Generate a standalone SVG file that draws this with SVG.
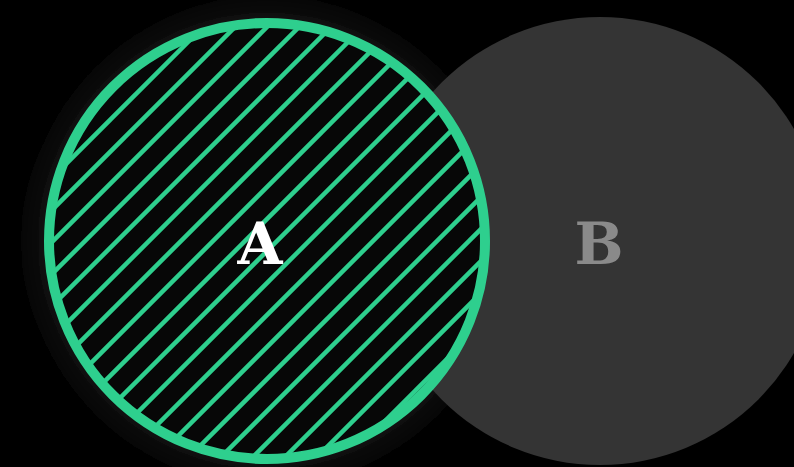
<svg xmlns="http://www.w3.org/2000/svg" width="794" height="467" viewBox="0 0 794 467">
  <defs>
    <filter id="glow" x="-50%" y="-50%" width="200%" height="200%">
      <feGaussianBlur stdDeviation="22"/>
    </filter>
    <clipPath id="clipA">
      <circle cx="267" cy="241" r="218"/>
    </clipPath>
    <style>
      .hatch line { stroke: #2ecf8e; stroke-width: 4.5; }
      .label { font-family: "DejaVu Serif", "Liberation Serif", serif; font-weight: bold; font-size: 58px; text-anchor: middle; }
    </style>
  </defs>
  <rect width="794" height="467" fill="#000"/>
  <g id="glowA">
    <circle cx="267" cy="241" r="222" fill="#242424" filter="url(#glow)"/>
  </g>
  <g id="setB">
    <circle cx="600" cy="241" r="224" fill="#343434"/>
    <text class="label" x="599" y="264" fill="#8a8a8a">B</text>
  </g>
  <g id="setA">
    <circle cx="267" cy="241" r="218" fill="#070707"/>
    <g class="hatch" clip-path="url(#clipA)">
      <line x1="-250" y1="480" x2="230" y2="0"/>
      <line x1="-218" y1="480" x2="262" y2="0"/>
      <line x1="-186" y1="480" x2="294" y2="0"/>
      <line x1="-154" y1="480" x2="326" y2="0"/>
      <line x1="-122" y1="480" x2="358" y2="0"/>
      <line x1="-90" y1="480" x2="390" y2="0"/>
      <line x1="-58" y1="480" x2="422" y2="0"/>
      <line x1="-26" y1="480" x2="454" y2="0"/>
      <line x1="6" y1="480" x2="486" y2="0"/>
      <line x1="38" y1="480" x2="518" y2="0"/>
      <line x1="70" y1="480" x2="550" y2="0"/>
      <line x1="102" y1="480" x2="582" y2="0"/>
      <line x1="134" y1="480" x2="614" y2="0"/>
      <line x1="166" y1="480" x2="646" y2="0"/>
      <line x1="198" y1="480" x2="678" y2="0"/>
      <line x1="230" y1="480" x2="710" y2="0"/>
      <line x1="262" y1="480" x2="742" y2="0"/>
      <line x1="294" y1="480" x2="774" y2="0"/>
      <line x1="326" y1="480" x2="806" y2="0"/>
    </g>
    <circle cx="267" cy="241" r="218" fill="none" stroke="#2ecf8e" stroke-width="10"/>
    <text class="label" x="260" y="264" fill="#ffffff">A</text>
  </g>
</svg>
